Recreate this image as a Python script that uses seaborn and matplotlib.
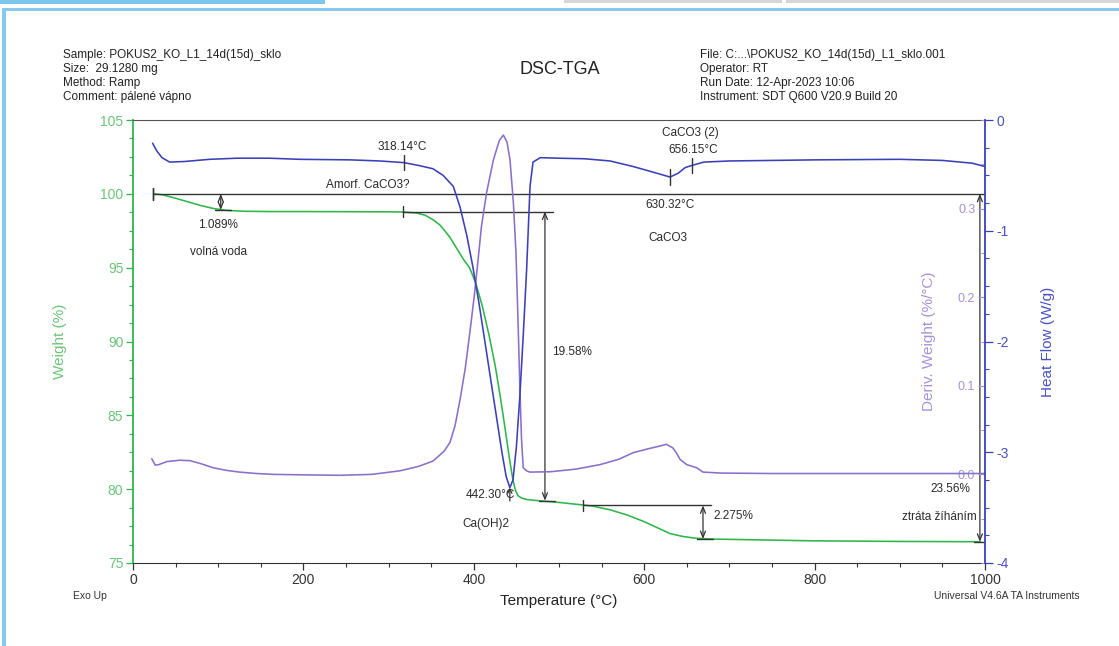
import matplotlib
matplotlib.use("Agg")
import matplotlib.pyplot as plt
from matplotlib.patches import Rectangle
from matplotlib.ticker import MultipleLocator, FixedLocator
import seaborn as sns
import pandas as pd

# ---- TGA weight (%) vs temperature (°C)
weight_temp = [25, 35, 50, 65, 80, 95, 110, 130, 160, 200, 250, 300, 317, 333, 343,
               352, 360, 366, 372, 380, 388, 395, 402, 410, 418, 425, 431, 437, 442,
               446, 449, 452, 456, 462, 470, 485, 500, 520, 540, 560, 580, 600, 615,
               630, 645, 660, 680, 700, 750, 800, 850, 900, 950, 995]
weight_pct = [100.0, 99.93, 99.7, 99.45, 99.2, 99.0, 98.88, 98.82, 98.8, 98.8, 98.79,
              98.78, 98.77, 98.7, 98.55, 98.25, 97.9, 97.5, 97.05, 96.3, 95.55, 95.0,
              94.0, 92.4, 90.4, 88.4, 86.3, 84.0, 82.0, 80.6, 79.9, 79.55, 79.4, 79.3,
              79.25, 79.18, 79.1, 78.98, 78.85, 78.6, 78.25, 77.8, 77.4, 77.0, 76.8,
              76.68, 76.62, 76.6, 76.55, 76.5, 76.48, 76.46, 76.45, 76.44]

# ---- DTG derivative weight (%/°C)
deriv_temp = [22, 26, 30, 40, 55, 67, 80, 94, 110, 125, 145, 165, 200, 243, 280, 313,
              335, 352, 365, 372, 378, 384, 390, 396, 401, 405, 409, 415, 423, 430,
              434.7, 439, 442.5, 446.5, 449.5, 452, 454, 456, 458, 462, 466, 490, 520,
              548, 570, 587, 605, 618.5, 626, 633.5, 638, 642, 650, 661.5, 669, 690,
              750, 850, 950, 1000]
deriv_val = [0.0177, 0.0105, 0.011, 0.0145, 0.016, 0.0155, 0.012, 0.0075, 0.0045,
             0.0026, 0.001, 0.0, -0.0005, -0.001, 0.0, 0.004, 0.009, 0.015, 0.026,
             0.036, 0.055, 0.085, 0.12, 0.165, 0.205, 0.242, 0.28, 0.318, 0.355,
             0.377, 0.383, 0.375, 0.355, 0.306, 0.25, 0.17, 0.10, 0.04, 0.0075, 0.004,
             0.0026, 0.003, 0.006, 0.011, 0.017, 0.0245, 0.029, 0.032, 0.034, 0.030,
             0.024, 0.017, 0.011, 0.0075, 0.0026, 0.0015, 0.001, 0.001, 0.001, 0.001]

# ---- DSC heat flow (W/g)
heat_temp = [23, 28, 34, 43, 60, 90, 122, 160, 196, 255, 290, 318.14, 335, 352, 364,
             376, 384, 392, 399, 406, 413, 420, 427, 433, 438, 442.3, 446, 450, 454,
             458, 462, 466, 469.5, 478, 500, 530, 560, 587, 610, 630.32, 640, 648,
             656.15, 670, 700, 800, 900, 950, 985, 1000]
heat_flow = [-0.21, -0.28, -0.34, -0.38, -0.375, -0.355, -0.345, -0.345, -0.355,
             -0.36, -0.37, -0.385, -0.41, -0.44, -0.50, -0.60, -0.79, -1.05, -1.33,
             -1.65, -2.0, -2.35, -2.7, -3.0, -3.22, -3.32, -3.25, -2.95, -2.5, -1.95,
             -1.35, -0.60, -0.38, -0.34, -0.345, -0.35, -0.37, -0.42, -0.47, -0.515,
             -0.48, -0.43, -0.41, -0.38, -0.37, -0.36, -0.355, -0.365, -0.39, -0.42]

# ---- step analyses: (start T, arrow T, end T, top %, loss %)
steps = [
    (23.5, 103.0, 0, 100.0, 1.089),
    (317.0, 483.5, 493.0, 98.8, 19.58),
    (528.0, 669.0, 678.0, 78.9, 2.275),
    (23.5, 994.0, 1000.0, 100.0, 23.56),
]
step_labels = ["1.089%", "19.58%", "2.275%", "23.56%"]

peak_marks = [318.14, 630.32, 656.15]
peak_labels = ["318.14°C", "630.32°C", "656.15°C"]
min_mark = 442.30

x_ticks = [0, 200, 400, 600, 800, 1000]
weight_ticks = [75, 80, 85, 90, 95, 100, 105]
deriv_ticks = [0.0, 0.1, 0.2, 0.3]
heat_ticks = [-4, -3, -2, -1, 0]

GREEN = "#2fb64a"
GREEN_TXT = "#6cc47a"
PURPLE = "#8a6fcb"
PURPLE_TXT = "#a493d6"
BLUE = "#3b40b8"
BLUE_TXT = "#4a50c4"
INK = "#333333"

sns.set_style("white")
plt.rcParams["font.family"] = ["Liberation Sans", "DejaVu Sans"]

W, H = 1119, 646
fig = plt.figure(figsize=(W / 100, H / 100), dpi=100)


def fx(px):
    return px / W


def fy(py):
    return 1 - py / H


# page decorations
fig.add_artist(Rectangle((0, fy(4)), fx(325), 4 / H, transform=fig.transFigure,
                         color="#7cc6ec", lw=0))
fig.add_artist(Rectangle((fx(564), fy(3)), fx(218), 3 / H, transform=fig.transFigure,
                         color="#d6d6d6", lw=0))
fig.add_artist(Rectangle((fx(786), fy(3)), fx(333), 3 / H, transform=fig.transFigure,
                         color="#d6d6d6", lw=0))
fig.add_artist(Rectangle((fx(2), fy(11)), fx(1117), 3 / H, transform=fig.transFigure,
                         color="#86c9ee", lw=0))
fig.add_artist(Rectangle((fx(2), 0), fx(4), fy(11), transform=fig.transFigure,
                         color="#86c9ee", lw=0))

ax = fig.add_axes([fx(133), fy(563), fx(985 - 133), (563 - 120) / H])
ax2 = ax.twinx()
ax3 = ax.twinx()

df_w = pd.DataFrame({"T": weight_temp, "W": weight_pct})
df_d = pd.DataFrame({"T": deriv_temp, "D": deriv_val})
df_h = pd.DataFrame({"T": heat_temp, "HF": heat_flow})

sns.lineplot(data=df_w, x="T", y="W", ax=ax, color=GREEN, lw=1.15, estimator=None)
sns.lineplot(data=df_d, x="T", y="D", ax=ax2, color=PURPLE, lw=1.15, estimator=None)
sns.lineplot(data=df_h, x="T", y="HF", ax=ax3, color=BLUE, lw=1.15, estimator=None)

# weight axis (left)
ax.set_xlim(0, 1000)
ax.set_ylim(75, 105)
ax.xaxis.set_major_locator(FixedLocator(x_ticks))
ax.xaxis.set_minor_locator(MultipleLocator(50))
ax.yaxis.set_major_locator(FixedLocator(weight_ticks))
ax.yaxis.set_minor_locator(MultipleLocator(1.25))
ax.tick_params(axis="x", which="major", direction="out", length=5, width=0.9,
               colors=INK, labelsize=10, pad=2, bottom=True)
ax.tick_params(axis="x", which="minor", direction="out", length=3, width=0.8,
               colors=INK, bottom=True)
ax.tick_params(axis="y", which="major", direction="out", length=5, width=0.9,
               colors=GREEN, labelcolor=GREEN_TXT, labelsize=10, pad=2, left=True)
ax.tick_params(axis="y", which="minor", direction="out", length=3, width=0.8,
               colors=GREEN, left=True)
ax.set_xlabel("Temperature (°C)", fontsize=11, color="#222222", labelpad=5)
ax.set_ylabel("Weight (%)", fontsize=11, color=GREEN_TXT, labelpad=24)
ax.spines["left"].set_color(GREEN)
ax.spines["left"].set_linewidth(1.3)
ax.spines["bottom"].set_color(INK)
ax.spines["top"].set_color("#555555")
ax.spines["right"].set_visible(False)

# derivative axis, ticks drawn inward from the right edge
ax2.set_ylim(-0.1, 0.4)
for s in ax2.spines.values():
    s.set_visible(False)
ax2.spines["left"].set_position(("axes", 1.0))
ax2.yaxis.set_ticks_position("left")
ax2.yaxis.set_label_position("left")
ax2.yaxis.set_major_locator(FixedLocator(deriv_ticks))
ax2.yaxis.set_minor_locator(MultipleLocator(0.05))
ax2.tick_params(axis="y", which="major", direction="out", length=5, width=0.9,
                colors=PURPLE_TXT, labelsize=9, pad=2)
ax2.tick_params(axis="y", which="minor", direction="out", length=3, width=0.8,
                colors=PURPLE_TXT)
ax2.set_ylabel("Deriv. Weight (%/°C)", fontsize=11, color=PURPLE_TXT, labelpad=16)
ax2.set_xlim(0, 1000)

# heat flow axis (right)
ax3.set_ylim(-4, 0)
for k in ("left", "top", "bottom"):
    ax3.spines[k].set_visible(False)
ax3.spines["right"].set_color(BLUE)
ax3.spines["right"].set_linewidth(1.3)
ax3.yaxis.set_major_locator(FixedLocator(heat_ticks))
ax3.yaxis.set_minor_locator(MultipleLocator(0.25))
ax3.tick_params(axis="y", which="major", direction="out", length=6, width=0.9,
                colors=BLUE, labelcolor=BLUE_TXT, labelsize=10, pad=2, right=True)
ax3.tick_params(axis="y", which="minor", direction="out", length=3, width=0.8,
                colors=BLUE, right=True)
ax3.set_yticklabels([f"{t:d}" for t in heat_ticks])
ax3.set_ylabel("Heat Flow (W/g)", fontsize=11, color=BLUE_TXT, labelpad=23)
ax3.set_xlim(0, 1000)

for a in (ax, ax2, ax3):
    a.set_facecolor("none")

# step analyses on the weight curve
ann_kw = dict(color=INK, lw=1.0)
arrow_kw = dict(arrowstyle="<->,head_length=0.45,head_width=0.18", color=INK, lw=0.9,
                shrinkA=0, shrinkB=0)
for (t0, ta, t1, top, loss) in steps:
    bottom = top - loss
    if t1 > 0:
        ax.plot([t0, t1], [top, top], **ann_kw, zorder=5)
    ax.plot([t0, t0], [top - 0.4, top + 0.4], **ann_kw, zorder=5)
    ax.annotate("", xy=(ta, bottom), xytext=(ta, top), arrowprops=arrow_kw, zorder=5)
    ax.plot([ta - 7, ta + 12], [bottom, bottom], **ann_kw, zorder=5)

# peak markers on heat flow curve
hf_at = dict(zip(heat_temp, heat_flow))
for t in peak_marks:
    v = hf_at[t]
    ax3.plot([t, t], [v - 0.07, v + 0.07], color=INK, lw=1.0, zorder=6)
vmin = hf_at[min_mark]
ax3.annotate("", xy=(min_mark, vmin), xytext=(min_mark, vmin - 0.12),
             arrowprops=dict(arrowstyle="->,head_length=0.3,head_width=0.15",
                             color=INK, lw=0.9, shrinkA=0, shrinkB=0), zorder=6)

# annotation texts (weight-axis coordinates)
tk = dict(fontsize=8.5, color="#2a2a2a", ha="center", va="center", zorder=7)
ax.text(316, 103.17, peak_labels[0], **tk)
ax.text(275, 100.6, "Amorf. CaCO3?", **tk)
ax.text(100, 97.89, step_labels[0], **tk)
ax.text(100, 96.06, "volná voda", **tk)
ax.text(419, 79.6, "442.30°C", **tk)
ax.text(414, 77.64, "Ca(OH)2", **tk)
ax.text(515, 89.29, step_labels[1], **tk)
ax.text(705, 78.18, step_labels[2], **tk)
ax.text(654, 104.12, "CaCO3 (2)", **tk)
ax.text(657, 102.97, peak_labels[2], **tk)
ax.text(630, 99.24, peak_labels[1], **tk)
ax.text(628, 97.0, "CaCO3", **tk)
ax.text(959, 80.0, step_labels[3], **tk)
ax.text(947, 78.1, "ztráta žíháním", **tk)

# header block
hk = dict(fontsize=8.5, color="#222222", ha="left", va="center")
for i, s in enumerate(["Sample: POKUS2_KO_L1_14d(15d)_sklo", "Size:  29.1280 mg",
                       "Method: Ramp", "Comment: pálené vápno"]):
    fig.text(fx(63), fy(55 + 14 * i), s, **hk)
for i, s in enumerate(["File: C:...\\POKUS2_KO_14d(15d)_L1_sklo.001", "Operator: RT",
                       "Run Date: 12-Apr-2023 10:06",
                       "Instrument: SDT Q600 V20.9 Build 20"]):
    fig.text(fx(700), fy(55 + 14 * i), s, **hk)
fig.text(fx(560), fy(69), "DSC-TGA", fontsize=13, color="#222222", ha="center",
         va="center")
fig.text(fx(90), fy(596), "Exo Up", fontsize=7.5, color="#333333", ha="center",
         va="center")
fig.text(fx(1007), fy(596), "Universal V4.6A TA Instruments", fontsize=7.5,
         color="#333333", ha="center", va="center")

fig.savefig("out.png", dpi=100, facecolor="white")
